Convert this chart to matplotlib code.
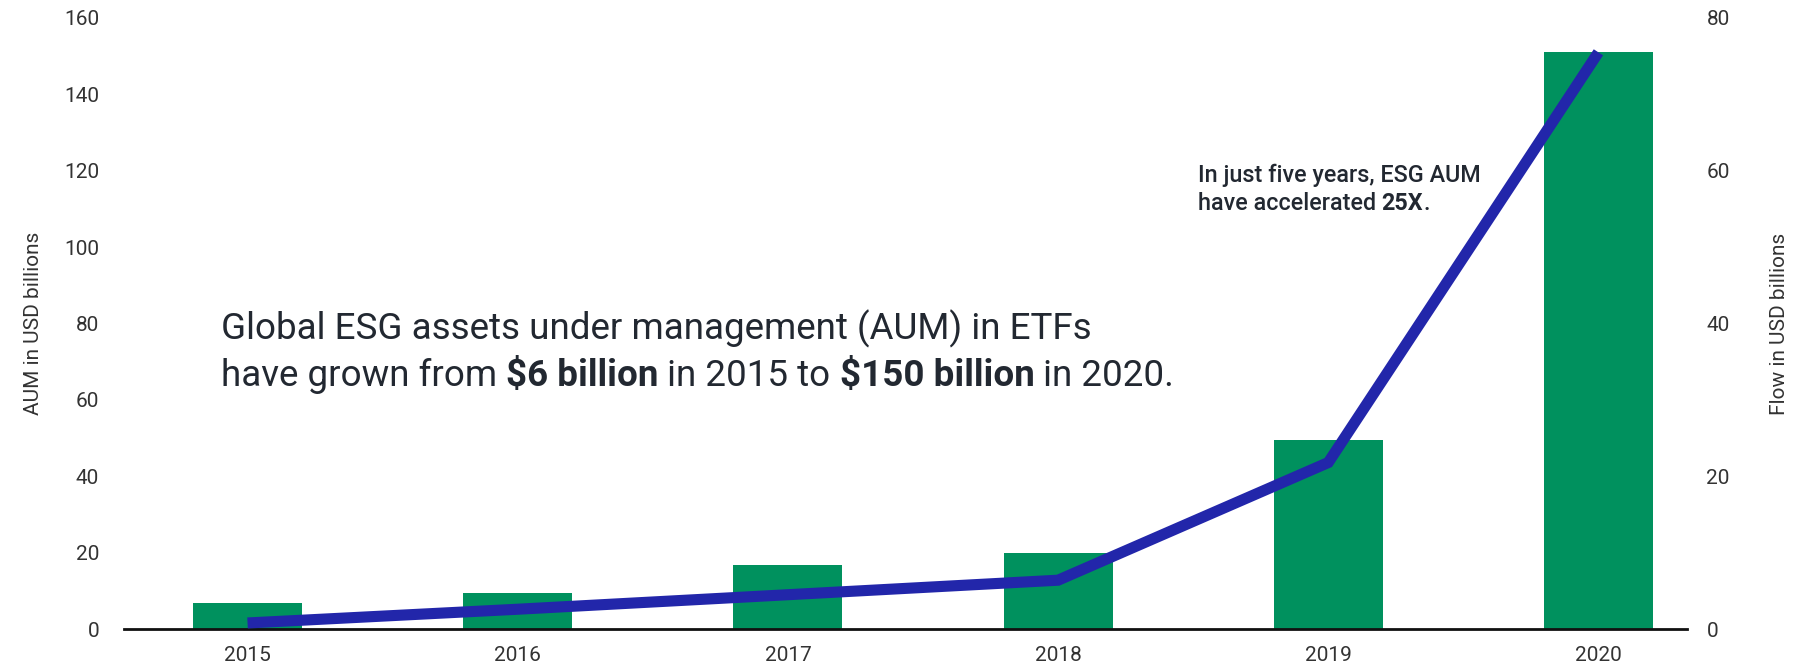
import numpy as np
import matplotlib
matplotlib.use("Agg")
import matplotlib.pyplot as plt

plt.rcParams['font.family'] = ['Roboto', 'DejaVu Sans']

# Data
years = ['2015', '2016', '2017', '2018', '2019', '2020']
aum = [6.7, 9.4, 16.8, 20.0, 49.4, 151.0]      # bars, left axis
flow = [0.8, 2.6, 4.5, 6.4, 21.8, 75.5]        # line, right axis
left_ticks = [0, 20, 40, 60, 80, 100, 120, 140, 160]
right_ticks = [0, 20, 40, 60, 80]

bar_color = '#00915e'
line_color = '#2226aa'
tick_color = '#333333'
text_color = '#222831'

fig = plt.figure(figsize=(17.93, 6.65), dpi=100)
ax = fig.add_axes([0.0692, 0.054, 0.8717, 0.919])
x = np.arange(len(years))

# bars: AUM
ax.bar(x, aum, width=0.403, color=bar_color)
ax.set_xlim(-0.457, 5.328)
ax.set_ylim(0, 160)
ax.set_yticks(left_ticks)
ax.set_xticks(x)
ax.set_xticklabels(years)
ax.set_ylabel('AUM in USD billions', fontsize=15, color=tick_color, labelpad=15)
ax.tick_params(axis='y', length=0, pad=18, labelsize=15, labelcolor=tick_color)
ax.tick_params(axis='x', length=0, pad=12.5, labelsize=15, labelcolor=tick_color)
for s in ['top', 'left', 'right']:
    ax.spines[s].set_visible(False)
ax.spines['bottom'].set_linewidth(2)
ax.spines['bottom'].set_color('#111111')

# line: flows
ax2 = ax.twinx()
ax2.plot(x, flow, color=line_color, linewidth=8, solid_capstyle='butt', solid_joinstyle='miter')
ax2.set_ylim(0, 80)
ax2.set_yticks(right_ticks)
ax2.set_ylabel('Flow in USD billions', fontsize=15, color=tick_color, labelpad=29)
ax2.tick_params(axis='y', length=0, pad=14, labelsize=15, labelcolor=tick_color)
for s in ['top', 'left', 'right', 'bottom']:
    ax2.spines[s].set_visible(False)


def chain(x0, y0, parts, size, color):
    # write text pieces one after another, so some words can be bold
    t = fig.text(x0, y0, parts[0][0], fontsize=size, fontweight=parts[0][1],
                 color=color, va='baseline')
    for s, w in parts[1:]:
        t = ax2.annotate(s, xy=(1, 0), xycoords=t, va='bottom', ha='left',
                         fontsize=size, fontweight=w, color=color,
                         annotation_clip=False)
    return t


chain(0.123, 0.489, [('Global ESG assets under management (AUM) in ETFs', 'normal')],
      26.5, text_color)
chain(0.123, 0.42, [('have grown from ', 'normal'), ('$6 billion', 'bold'),
                    (' in 2015 to ', 'normal'), ('$150 billion', 'bold'),
                    (' in 2020.', 'normal')], 26.5, text_color)

chain(0.668, 0.727, [('In just five years, ESG AUM', 'medium')], 16.8, text_color)
chain(0.668, 0.684, [('have accelerated ', 'medium'), ('25X', 'bold'), ('.', 'medium')],
      16.8, text_color)

fig.savefig('out.png', dpi=100)
